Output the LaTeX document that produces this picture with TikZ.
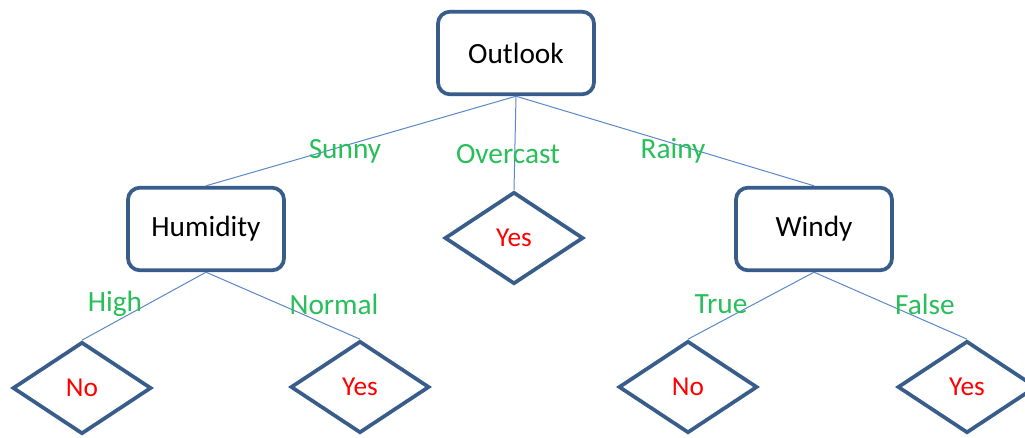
\documentclass[tikz,border=0pt]{standalone}
\usepackage{fontspec}
\setmainfont{Carlito}
\usetikzlibrary{shapes.geometric}

\definecolor{boxblue}{RGB}{56,93,138}
\definecolor{lineblue}{RGB}{90,135,200}
\definecolor{lblgreen}{RGB}{40,190,90}
\definecolor{leafred}{RGB}{255,0,0}

\tikzset{
	attr/.style={draw=boxblue, line width=2.8pt, rounded corners=9pt, fill=white,
		minimum width=117pt, minimum height=62pt, font=\fontsize{22}{26}\selectfont},
	leaf/.style={diamond, draw=boxblue, line width=2.8pt, fill=white,
		minimum width=104pt, minimum height=69pt, inner sep=0pt,
		text=leafred, font=\fontsize{20.5}{24}\selectfont},
	branch/.style={draw=lineblue, line width=0.75pt},
	lbl/.style={text=lblgreen, font=\fontsize{22}{26}\selectfont, inner sep=0pt}
}

\begin{document}
\begin{tikzpicture}[x=0.75pt,y=-0.75pt]
	\useasboundingbox (0,0) rectangle (1025,437);
	\begin{scope}
	\clip (0,0) rectangle (1025,437);
	% decision nodes
	\node[attr] (outlook) at (516,53) {Outlook};
	\node[attr] (humidity) at (206,229) {Humidity};
	\node[attr] (windy) at (814,229) {Windy};
	% leaves
	\node[leaf] (yes1) at (514,238) {Yes};
	\node[leaf] (no1) at (82,388) {No};
	\node[leaf] (yes2) at (360,387) {Yes};
	\node[leaf] (no2) at (688,387) {No};
	\node[leaf] (yes3) at (967,387) {Yes};
	% branches
	\draw[branch] (outlook.south) -- (humidity.north);
	\draw[branch] (outlook.south) -- (yes1.north);
	\draw[branch] (outlook.south) -- (windy.north);
	\draw[branch] (humidity.south) -- (no1.north);
	\draw[branch] (humidity.south) -- (yes2.north);
	\draw[branch] (windy.south) -- (no2.north);
	\draw[branch] (windy.south) -- (yes3.north);
	% labels
	\node[lbl] (sunny) at (345,151) {Sunny};
	\node[lbl] (overcast) at (508,154) {Overcast};
	\node[lbl] (rainy) at (673,151) {Rainy};
	\node[lbl] (high) at (115,304) {High};
	\node[lbl] (normal) at (334,304) {Normal};
	\node[lbl] (true) at (721,304) {True};
	\node[lbl] (false) at (925,304) {False};
	\end{scope}
\end{tikzpicture}
\end{document}
